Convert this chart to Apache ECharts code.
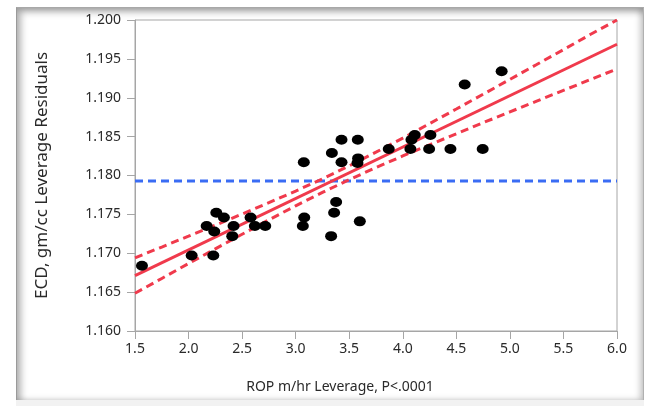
<!DOCTYPE html>
<html>
<head>
<meta charset="utf-8">
<script src="https://cdn.jsdelivr.net/npm/echarts@6/dist/echarts.min.js"></script>
<style>
  html, body { margin: 0; padding: 0; background: #ffffff; width: 649px; height: 406px; overflow: hidden; }
  #chart { position: absolute; left: 0; top: 0; width: 649px; height: 399px; }
  #frame {
    position: absolute; left: 16px; top: 7px; width: 628px; height: 393px;
    box-sizing: border-box; pointer-events: none;
    border-left: 1px solid #9a9a9a; border-top: 1px solid #a8a8a8; border-right: 1px solid #b0b0b0;
    box-shadow: inset 4px 4px 7px rgba(0,0,0,0.30), inset -3px 0 6px rgba(0,0,0,0.22);
  }
  #base { position: absolute; left: 16px; top: 400px; width: 628px; height: 6px; background: #f2f2f2; }
</style>
</head>
<body>
<div id="chart"></div>
<div id="frame"></div>
<div id="base"></div>
<script>
// Leverage plot: ECD residuals against ROP leverage
const ropLeverage = [
  1.565, 2.029, 2.231, 2.169, 2.240, 2.259, 2.330, 2.420, 2.408, 2.579,
  2.619, 2.716, 3.076, 3.080, 3.067, 3.331, 3.338, 3.428, 3.428, 3.378,
  3.359, 3.580, 3.583, 3.577, 3.599, 3.869, 4.071, 4.081, 4.112, 4.258,
  4.246, 4.445, 4.746, 4.578, 4.923
];
const ecdResiduals = [
  1.1684, 1.1697, 1.1697, 1.1735, 1.1728, 1.1752, 1.1746, 1.1735, 1.1722, 1.1746,
  1.1735, 1.1735, 1.1817, 1.1746, 1.1735, 1.1722, 1.1829, 1.1846, 1.1817, 1.1766,
  1.1752, 1.1846, 1.1822, 1.1816, 1.1741, 1.1834, 1.1834, 1.1846, 1.1852, 1.1852,
  1.1834, 1.1834, 1.1834, 1.1917, 1.1934
];

// Fitted line and its confidence limits
const fitX = [1.5, 6.0];
const fitY = [1.16713, 1.19688];
const bandX = [1.50, 1.75, 2.00, 2.25, 2.50, 2.75, 3.00, 3.25, 3.50, 3.75,
               4.00, 4.25, 4.50, 4.75, 5.00, 5.25, 5.50, 5.75, 6.00];
const bandUpper = [1.16941, 1.17080, 1.17220, 1.17361, 1.17504, 1.17650, 1.17800, 1.17957, 1.18124, 1.18300,
                   1.18481, 1.18667, 1.18855, 1.19045, 1.19236, 1.19427, 1.19619, 1.19813, 1.20000];
const bandLower = [1.16485, 1.16676, 1.16868, 1.17057, 1.17244, 1.17430, 1.17610, 1.17783, 1.17946, 1.18102,
                   1.18251, 1.18395, 1.18537, 1.18679, 1.18818, 1.18957, 1.19095, 1.19233, 1.19371];

// Mean of the response
const meanX = [1.5, 6.0];
const meanY = [1.1793, 1.1793];

const yTitle = 'ECD, gm/cc Leverage Residuals';
const xTitle = 'ROP m/hr Leverage, P<.0001';

const zip = (xs, ys) => xs.map((x, i) => [x, ys[i]]);

const RED = '#f03a4c';
const BLUE = '#3a6cf4';
const AXIS = '#a6a6a6';
const FONT = 'Noto Sans';
const TEXT = '#2a2a2a';

const chart = echarts.init(document.getElementById('chart'), null, { renderer: 'canvas' });
chart.setOption({
  animation: false,
  grid: {
    left: 135, top: 20, width: 482, height: 316,
    show: true, borderColor: AXIS, borderWidth: 1, backgroundColor: 'transparent'
  },
  xAxis: {
    type: 'value', min: 1.5, max: 6.0, interval: 0.5,
    name: xTitle, nameLocation: 'middle', nameGap: 49,
    nameTextStyle: { fontFamily: FONT, fontSize: 14, color: TEXT, padding: [0, 72, 0, 0] },
    axisLine: { show: true, lineStyle: { color: AXIS, width: 1 } },
    axisTick: { show: true, inside: false, length: 8, lineStyle: { color: AXIS } },
    axisLabel: { fontFamily: FONT, fontSize: 14, color: TEXT, margin: 11,
                 formatter: v => v.toFixed(1) },
    splitLine: { show: false }
  },
  yAxis: {
    type: 'value', min: 1.160, max: 1.200, interval: 0.005,
    name: yTitle, nameLocation: 'middle', nameGap: 84, nameRotate: 90,
    nameTextStyle: { fontFamily: FONT, fontSize: 17, color: TEXT },
    axisLine: { show: true, lineStyle: { color: AXIS, width: 1 } },
    axisTick: { show: true, inside: false, length: 8, lineStyle: { color: AXIS } },
    axisLabel: { fontFamily: FONT, fontSize: 14, color: TEXT, margin: 14,
                 formatter: v => v.toFixed(3) },
    splitLine: { show: false }
  },
  series: [
    {
      type: 'line', data: zip(meanX, meanY), symbol: 'none', silent: true, z: 2,
      lineStyle: { color: BLUE, width: 3, type: [8, 5] }
    },
    {
      type: 'line', data: zip(bandX, bandUpper), symbol: 'none', silent: true, z: 3,
      lineStyle: { color: RED, width: 3, type: [8, 5] }
    },
    {
      type: 'line', data: zip(bandX, bandLower), symbol: 'none', silent: true, z: 3,
      lineStyle: { color: RED, width: 3, type: [8, 5] }
    },
    {
      type: 'line', data: zip(fitX, fitY), symbol: 'none', silent: true, z: 3,
      lineStyle: { color: RED, width: 3 }
    },
    {
      type: 'scatter', data: zip(ropLeverage, ecdResiduals), z: 5,
      symbol: 'circle', symbolSize: [12, 10],
      itemStyle: { color: '#000000', opacity: 1 }
    }
  ]
});
</script>
</body>
</html>
